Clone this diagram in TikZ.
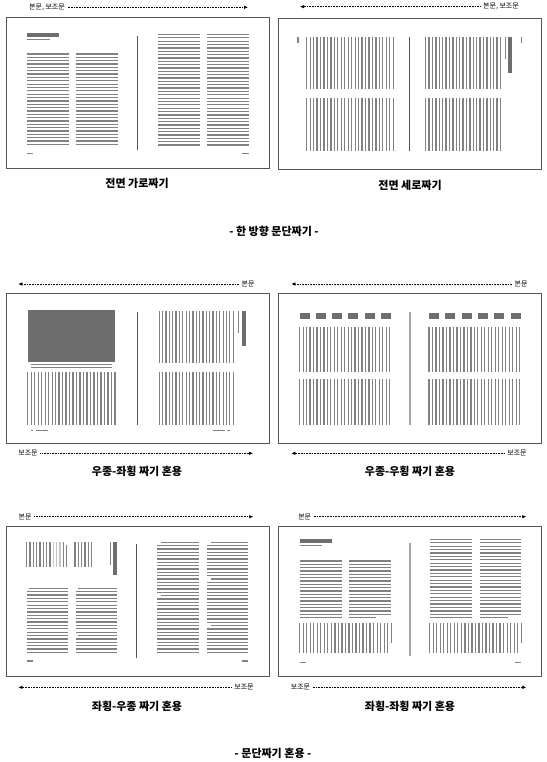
\documentclass[tikz,border=0pt]{standalone}
\usepackage{fontspec}
\usepackage{tikz}
\usetikzlibrary{arrows.meta}
\setmainfont{Noto Sans CJK KR}

\definecolor{inkgray}{HTML}{828282}
\definecolor{bargray}{HTML}{6E6E6E}
\definecolor{framegray}{HTML}{555555}

\tikzset{
  txtline/.style={draw=inkgray, line width=1.25pt},
  headbar/.style={draw=bargray, line width=3.6pt},
  sidebar/.style={draw=bargray, line width=3.6pt},
  thinline/.style={draw=inkgray, line width=0.8pt},
  gutter/.style={draw=framegray, line width=1pt},
  lightgutter/.style={draw=gray!70, line width=1.6pt},
  spread/.style={draw=framegray, line width=0.9pt},
  flowarrow/.style={densely dotted, line width=0.6pt, -{Latex[length=4pt,width=3.5pt]}, shorten <=1pt},
  flowlabel/.style={font=\fontsize{7}{8}\selectfont, inner sep=1.5pt},
  caption/.style={font=\fontsize{11}{13}\selectfont\bfseries}
}

% horizontal text lines: x1, x2, first y, step, last index
\newcommand{\hlines}[5]{\foreach \k in {0,...,#5} \draw[txtline] (#1,{#3+\k*#4}) -- (#2,{#3+\k*#4});}
% vertical text lines: first x, step, last index, y1, y2
\newcommand{\vlines}[5]{\foreach \k in {0,...,#3} \draw[txtline] ({#1+\k*#2},#4) -- ({#1+\k*#2},#5);}

\begin{document}
\begin{tikzpicture}[x=1pt,y=-1pt]
\useasboundingbox (0,0) rectangle (546,762);

%% spread 1
\draw[spread] (6,17) rectangle (269,168);
\node[flowlabel] (sp1top) at (47,7.3) {본문, 보조문};
\coordinate (sp1topend) at (248,7.3);
\draw[flowarrow] (sp1top) -- (sp1topend);
\draw[headbar] (27,35) -- (59,35);
\draw[thinline] (27,39.5) -- (50,39.5);
\hlines{27}{69}{54}{3.35}{27}
\hlines{76}{118}{54}{3.35}{27}
\draw[gutter] (137.3,36) -- (137.3,150);
\hlines{158}{200}{34.5}{3.35}{33}
\hlines{207}{249}{34.5}{3.35}{33}
\draw[txtline] (27,153.5) -- (33,153.5);
\draw[txtline] (242,153.5) -- (249,153.5);
\node[caption] (cap1) at (137,183) {전면 가로짜기};

%% spread 2
\draw[spread] (278,18) rectangle (541,169);
\node[flowlabel] (sp2top) at (501,6.7) {본문, 보조문};
\coordinate (sp2topend) at (300,6.7);
\draw[flowarrow] (sp2top) -- (sp2topend);
\draw[txtline, line width=1.6pt] (298,37) -- (298,43);
\vlines{306.7}{3.46}{25}{36.7}{89.3}
\vlines{306.7}{3.46}{25}{98.3}{150.7}
\draw[gutter] (409.7,37.3) -- (409.7,150.7);
\vlines{425.7}{3.4}{22}{36.7}{89.3}
\vlines{425.7}{3.4}{22}{98.3}{150.7}
\draw[thinline] (505,36.7) -- (505,59.3);
\draw[sidebar] (510,36.7) -- (510,72.7);
\draw[txtline] (521.3,37.3) -- (521.3,43.3);
\node[caption] (cap2) at (410,185) {전면 세로짜기};

\node[caption] (grp1) at (274,231.7) {- 한 방향 문단짜기 -};

%% spread 3
\draw[spread] (6,293) rectangle (269,443);
\node[flowlabel] (sp3top) at (248,284) {본문};
\coordinate (sp3topend) at (18.3,284);
\draw[flowarrow] (sp3top) -- (sp3topend);
\node[flowlabel] (sp3bot) at (28,453.3) {보조문};
\coordinate (sp3botend) at (253,453.3);
\draw[flowarrow] (sp3bot) -- (sp3botend);
\fill[bargray] (27.7,310) rectangle (115,361.7);
\draw[thinline] (31,364.7) -- (111.7,364.7);
\draw[thinline] (31,367.3) -- (111.7,367.3);
\vlines{27.7}{3.49}{25}{371.7}{425}
\draw[thinline] (31,430) -- (33,430);
\draw[thinline] (36,430) -- (47.7,430);
\draw[gutter] (137.3,311.7) -- (137.3,425);
\vlines{159.3}{3.36}{22}{310.7}{362.7}
\vlines{159.3}{3.36}{22}{371.7}{425}
\draw[thinline] (238.7,310.7) -- (238.7,332.7);
\draw[sidebar] (244.2,310.7) -- (244.2,346);
\draw[thinline] (213.3,430) -- (225,430);
\draw[thinline] (226.7,430) -- (230,430);
\node[caption] (cap3) at (137,471.7) {우종-좌횡 짜기 혼용};

%% spread 4
\draw[spread] (278,293) rectangle (541,443);
\node[flowlabel] (sp4top) at (521,284) {본문};
\coordinate (sp4topend) at (291.3,284);
\draw[flowarrow] (sp4top) -- (sp4topend);
\node[flowlabel] (sp4bot) at (517,453.3) {보조문};
\coordinate (sp4botend) at (291.3,453.3);
\draw[flowarrow] (sp4bot) -- (sp4botend);
\foreach \i in {0,...,5} {
  \fill[bargray] ({299.7+\i*16.2},312.7) rectangle ++(10,6);
  \fill[bargray] ({429+\i*16.3},312.7) rectangle ++(10,6);
}
\vlines{299.7}{3.46}{26}{326.7}{371.7}
\vlines{299.7}{3.46}{26}{379.3}{425}
\draw[lightgutter] (409.7,311.7) -- (409.7,425);
\vlines{429}{3.49}{26}{326.7}{371.7}
\vlines{429}{3.49}{26}{379.3}{425}
\node[caption] (cap4) at (410,471.7) {우종-우횡 짜기 혼용};

%% spread 5
\draw[spread] (6,526) rectangle (269,676);
\node[flowlabel] (sp5top) at (25,516.7) {본문};
\coordinate (sp5topend) at (253.3,516.7);
\draw[flowarrow] (sp5top) -- (sp5topend);
\node[flowlabel] (sp5bot) at (244,687.3) {보조문};
\coordinate (sp5botend) at (18.3,687.3);
\draw[flowarrow] (sp5bot) -- (sp5botend);
\vlines{26.7}{3.33}{11}{542.3}{566.7}
\foreach \k in {8,9,10} \draw[draw=gray!45, line width=1.25pt] ({26.7+\k*3.33},542.3) -- ({26.7+\k*3.33},566.7);
\draw[txtline] (66.7,545) -- (66.7,566.7);
\vlines{75}{3.33}{5}{542.3}{566.7}
\draw[thinline] (110,542.3) -- (110,565);
\draw[sidebar] (115,542.3) -- (115,575);
% left page, body text
\hlines{26.7}{68.3}{591.7}{3.37}{18}
\hlines{75.7}{117.3}{591.7}{3.37}{18}
\draw[txtline] (29.3,588.3) -- (68.3,588.3);
\draw[txtline] (78,588.3) -- (117.3,588.3);
\draw[draw=white, line width=1.4pt] (75.5,635.5) -- (78,635.5);
\draw[txtline] (26.7,661) -- (32.7,661);
\draw[gutter] (136.7,544.3) -- (136.7,657.7);
% right page, body text
\hlines{157.3}{199.3}{542.3}{3.333}{33}
\hlines{206.7}{248.3}{542.3}{3.333}{33}
\foreach \k/\x in {0/157.3, 16/157.3, 0/206.7, 11/206.7, 25/206.7}
  \draw[draw=white, line width=1.4pt] ({\x-0.5},{542.3+\k*3.333}) -- ({\x+4},{542.3+\k*3.333});
\draw[txtline] (241.7,661) -- (248.3,661);
\node[caption] (cap5) at (137,706.7) {좌횡-우종 짜기 혼용};

%% spread 6
\draw[spread] (278,526) rectangle (541,676);
\node[flowlabel] (sp6top) at (304.7,516.7) {본문};
\coordinate (sp6topend) at (526.3,516.7);
\draw[flowarrow] (sp6top) -- (sp6topend);
\node[flowlabel] (sp6bot) at (300.5,687.3) {보조문};
\coordinate (sp6botend) at (526.3,687.3);
\draw[flowarrow] (sp6bot) -- (sp6botend);
\draw[headbar] (299.7,541) -- (332.3,541);
\draw[thinline] (299.7,545.7) -- (322,545.7);
\hlines{299.7}{342}{561}{3.333}{17}
\hlines{349}{391.3}{561}{3.333}{16}
\draw[txtline] (349,617.7) -- (376.3,617.7);
\vlines{299.7}{3.52}{25}{623.3}{653.3}
\draw[txtline] (391.3,623.3) -- (391.3,643.3);
\draw[txtline] (299.7,662.3) -- (306.3,662.3);
\draw[lightgutter] (409.7,542.7) -- (409.7,656);
\hlines{429.7}{472.3}{539.3}{3.41}{23}
\hlines{479.7}{521.3}{539.3}{3.41}{22}
\draw[txtline] (479.7,617.7) -- (508,617.7);
\vlines{429.7}{3.52}{25}{623.3}{653.3}
\draw[txtline] (521.3,623.3) -- (521.3,643.3);
\draw[txtline] (515.3,662.3) -- (521.3,662.3);
\node[caption] (cap6) at (410,706.7) {좌횡-좌횡 짜기 혼용};

\node[caption] (grp2) at (273,753.3) {- 문단짜기 혼용 -};
\end{tikzpicture}
\end{document}
